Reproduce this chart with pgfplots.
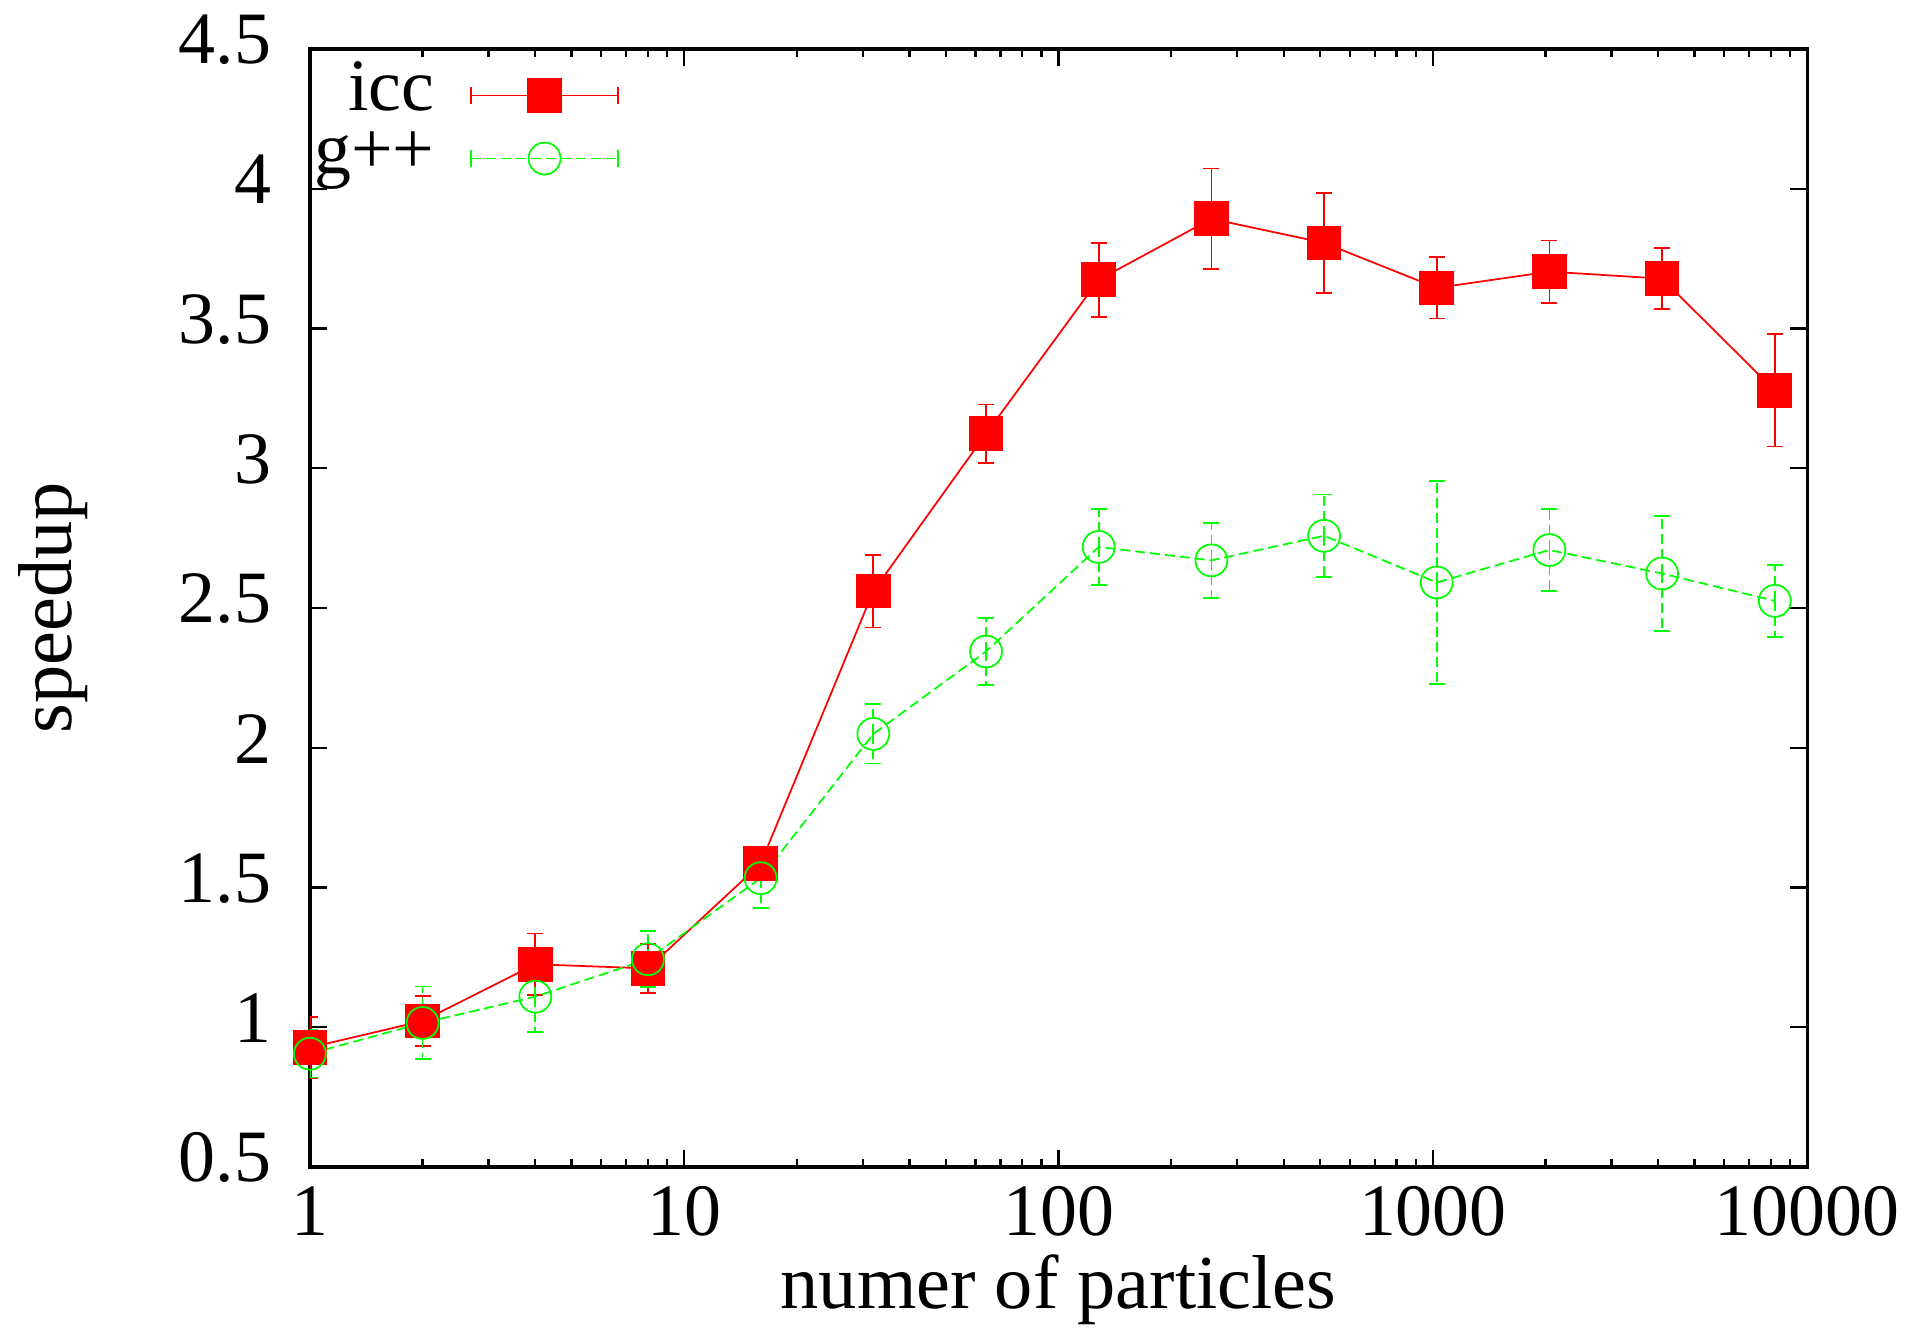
\documentclass[border=0pt]{standalone}
\usepackage{fontspec}
\setmainfont{Liberation Serif}
\usepackage{pgfplots}
\pgfplotsset{compat=1.18}
\definecolor{gpred}{rgb}{1,0,0}
\definecolor{gpgreen}{rgb}{0,1,0}
\begin{document}
\begin{tikzpicture}
\useasboundingbox (-62.1pt,-33.1pt) rectangle (324.8pt,233.8pt);
\begin{semilogxaxis}[
    scale only axis, width=300pt, height=224pt,
    xmin=1, xmax=10000, ymin=0.5, ymax=4.5,
    xtick={1,10,100,1000,10000},
    xticklabels={1,10,100,1000,10000},
    ytick={0.5,1,1.5,2,2.5,3,3.5,4,4.5},
    yticklabels={0.5,1,1.5,2,2.5,3,3.5,4,4.5},
    tick label style={font=\fontsize{14.8}{17}\selectfont},
    yticklabel style={anchor=east, inner sep=0pt, xshift=-7.6pt, yshift=1.8pt},
    xticklabel style={anchor=north, inner sep=0pt, yshift=-3.8pt},
    tick align=inside,
    major tick length=3.4pt, minor tick length=1.6pt,
    every tick/.style={black, line width=0.45pt},
    axis line style={line width=0.65pt},
    every axis x label/.style={at={(axis description cs:0.5,0)}, anchor=base, yshift=-28.3pt,
      font=\fontsize{15.3}{18}\selectfont},
    every axis y label/.style={at={(axis description cs:-0.159,0.5)}, rotate=90, anchor=base,
      font=\fontsize{15.3}{18}\selectfont},
    xlabel={numer of particles}, ylabel={speedup},
    legend plot pos=right, legend cell align=right,
    legend style={draw=none, fill=none, inner sep=0pt, outer sep=0pt,
      at={(axis description cs:0.2063,0.985)}, anchor=north east,
      column sep=7.2pt, row sep=0.6pt,
      nodes={inner sep=0pt, text height=9pt, text depth=3pt},
      font=\fontsize{14.8}{17}\selectfont},
    legend image code/.code={
      \draw[#1, mark=none] (0pt,0pt) -- (29.4pt,0pt);
      \draw[#1, mark=none, solid] (0pt,-1.75pt) -- (0pt,1.75pt);
      \draw[#1, mark=none, solid] (29.4pt,-1.75pt) -- (29.4pt,1.75pt);
      \draw[#1] plot coordinates {(14.7pt,0pt)};
    },
  ]
  %% icc
  \addplot[gpred, line width=0.35pt, mark=square*, mark size=3.3pt, mark options={solid},
    error bars/.cd, y dir=both, y explicit,
    error bar style={gpred, line width=0.35pt},
    error mark options={gpred, rotate=90, mark size=1.6pt, line width=0.35pt}]
  coordinates {
    (1,0.927) +- (0,0.110)
    (2,1.022) +- (0,0.089)
    (4,1.225) +- (0,0.110)
    (8,1.210) +- (0,0.088)
    (16,1.585) +- (0,0.055)
    (32,2.560) +- (0,0.130)
    (64,3.123) +- (0,0.105)
    (128,3.674) +- (0,0.132)
    (256,3.892) +- (0,0.180)
    (512,3.806) +- (0,0.179)
    (1024,3.645) +- (0,0.110)
    (2048,3.703) +- (0,0.111)
    (4096,3.678) +- (0,0.109)
    (8192,3.278) +- (0,0.201)
  };
  \addlegendentry{icc}
  %% g++
  \addplot[gpgreen, line width=0.35pt, dash pattern=on 2pt off 1pt, mark=o, mark size=3.2pt, mark options={solid},
    error bars/.cd, y dir=both, y explicit,
    error bar style={gpgreen, line width=0.35pt, dash pattern=on 2pt off 1pt},
    error mark options={gpgreen, rotate=90, mark size=1.6pt, line width=0.35pt}]
  coordinates {
    (1,0.905) +- (0,0.085)
    (2,1.015) +- (0,0.130)
    (4,1.109) +- (0,0.127)
    (8,1.243) +- (0,0.100)
    (16,1.533) +- (0,0.106)
    (32,2.049) +- (0,0.106)
    (64,2.344) +- (0,0.119)
    (128,2.718) +- (0,0.137)
    (256,2.670) +- (0,0.135)
    (512,2.758) +- (0,0.148)
    (1024,2.591) +- (0,0.364)
    (2048,2.707) +- (0,0.147)
    (4096,2.623) +- (0,0.207)
    (8192,2.525) +- (0,0.128)
  };
  \addlegendentry{g++}
\end{semilogxaxis}
\end{tikzpicture}
\end{document}
